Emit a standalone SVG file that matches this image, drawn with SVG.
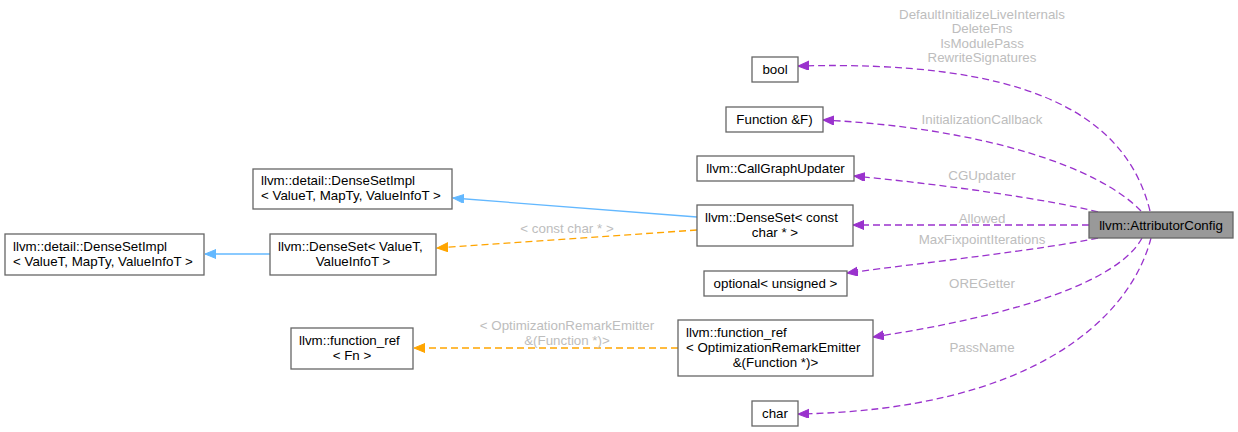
<svg xmlns="http://www.w3.org/2000/svg" width="1238" height="432" viewBox="0 0 1238 432">
<defs>
<style>
.n rect{fill:#fff;stroke:#666;stroke-width:1.3}
.n text,.hl text{font-family:"Liberation Sans",Arial,sans-serif;font-size:13.33px;fill:#000}
.m{text-anchor:middle}
.hl rect{fill:#999;stroke:#666;stroke-width:1.3}
.e{fill:none;stroke-width:1.3}
.p{stroke:#9a32cd;stroke-dasharray:7,4}
.b{stroke:#63b8ff}
.o{stroke:#ffa500;stroke-dasharray:7,4}
.lb{font-family:"Liberation Sans",Arial,sans-serif;font-size:13.33px;fill:#bdbdbd;text-anchor:middle}
</style>
<marker id="ap" markerUnits="userSpaceOnUse" markerWidth="12" markerHeight="10" refX="11" refY="4.5" orient="auto"><path d="M0,0 L11,4.5 L0,9 z" fill="#9a32cd" stroke="#9a32cd"/></marker>
<marker id="ab" markerUnits="userSpaceOnUse" markerWidth="12" markerHeight="10" refX="11" refY="4.5" orient="auto"><path d="M0,0 L11,4.5 L0,9 z" fill="#63b8ff" stroke="#63b8ff"/></marker>
<marker id="ao" markerUnits="userSpaceOnUse" markerWidth="12" markerHeight="10" refX="11" refY="4.5" orient="auto"><path d="M0,0 L11,4.5 L0,9 z" fill="#ffa500" stroke="#ffa500"/></marker>
</defs>
<rect width="1238" height="432" fill="#fff"/>
<g id="edges">
<path class="e b" d="M697,217 L453,198" marker-end="url(#ab)"/>
<path class="e b" d="M270,254 L205,254" marker-end="url(#ab)"/>
<path class="e o" d="M697,230 L437,248" marker-end="url(#ao)"/>
<path class="e o" d="M678,348 L414,348" marker-end="url(#ao)"/>
<path class="e p" d="M1150,211 C1125,110 1020,60 798,66" marker-end="url(#ap)"/>
<path class="e p" d="M1141,211 C1100,168 985,128 823,120" marker-end="url(#ap)"/>
<path class="e p" d="M1098,212 C1050,200 950,185 854,176" marker-end="url(#ap)"/>
<path class="e p" d="M1089,225 L853,225" marker-end="url(#ap)"/>
<path class="e p" d="M1098,238 C1040,250 930,262 847,273" marker-end="url(#ap)"/>
<path class="e p" d="M1142,238 C1120,280 1020,315 873,337" marker-end="url(#ap)"/>
<path class="e p" d="M1151,238 C1130,320 1030,410 798,414" marker-end="url(#ap)"/>
<text class="lb" x="567" y="232.5">&lt; const char * &gt;</text>
<text class="lb" x="567" y="330">&lt; OptimizationRemarkEmitter</text>
<text class="lb" x="567" y="345">&amp;(Function *)&gt;</text>
<text class="lb" x="982" y="18.5">DefaultInitializeLiveInternals</text>
<text class="lb" x="982" y="33">DeleteFns</text>
<text class="lb" x="982" y="47.5">IsModulePass</text>
<text class="lb" x="982" y="62">RewriteSignatures</text>
<text class="lb" x="982" y="123.5">InitializationCallback</text>
<text class="lb" x="982" y="179.5">CGUpdater</text>
<text class="lb" x="982" y="222.5">Allowed</text>
<text class="lb" x="982" y="244">MaxFixpointIterations</text>
<text class="lb" x="982" y="288">OREGetter</text>
<text class="lb" x="982" y="352">PassName</text>
</g>
<g id="AttributorConfig" class="hl"><rect x="1089" y="212" width="144" height="26"/><text class="m" x="1161" y="229.5">llvm::AttributorConfig</text></g>
<g id="bool" class="n"><rect x="752" y="57" width="46" height="25"/><text class="m" x="775" y="74">bool</text></g>
<g id="FunctionF" class="n"><rect x="726" y="107" width="97" height="25"/><text class="m" x="774.5" y="124">Function &amp;F)</text></g>
<g id="CallGraphUpdater" class="n"><rect x="697" y="156" width="157" height="25"/><text class="m" x="775.5" y="173">llvm::CallGraphUpdater</text></g>
<g id="DenseSetConstChar" class="n"><rect x="697" y="205" width="156" height="41"/><text x="705" y="222">llvm::DenseSet&lt; const</text><text class="m" x="775" y="237">char * &gt;</text></g>
<g id="OptionalUnsigned" class="n"><rect x="704" y="271" width="143" height="25"/><text class="m" x="775.5" y="288">optional&lt; unsigned &gt;</text></g>
<g id="FunctionRefORE" class="n"><rect x="678" y="320" width="195" height="56"/><text x="686" y="337">llvm::function_ref</text><text x="686" y="352">&lt; OptimizationRemarkEmitter</text><text class="m" x="775.5" y="367">&amp;(Function *)&gt;</text></g>
<g id="char" class="n"><rect x="752" y="401" width="46" height="25"/><text class="m" x="775" y="418">char</text></g>
<g id="DenseSetImplUpper" class="n"><rect x="253" y="169" width="199" height="40"/><text x="261" y="185">llvm::detail::DenseSetImpl</text><text x="261" y="200">&lt; ValueT, MapTy, ValueInfoT &gt;</text></g>
<g id="DenseSetValueT" class="n"><rect x="270" y="234" width="166" height="41"/><text x="278" y="251">llvm::DenseSet&lt; ValueT,</text><text class="m" x="353" y="266">ValueInfoT &gt;</text></g>
<g id="DenseSetImplLeft" class="n"><rect x="5" y="234" width="199" height="41"/><text x="13" y="251">llvm::detail::DenseSetImpl</text><text x="13" y="266">&lt; ValueT, MapTy, ValueInfoT &gt;</text></g>
<g id="FunctionRefFn" class="n"><rect x="291" y="328" width="122" height="41"/><text x="299" y="345">llvm::function_ref</text><text class="m" x="352" y="360">&lt; Fn &gt;</text></g>
</svg>
